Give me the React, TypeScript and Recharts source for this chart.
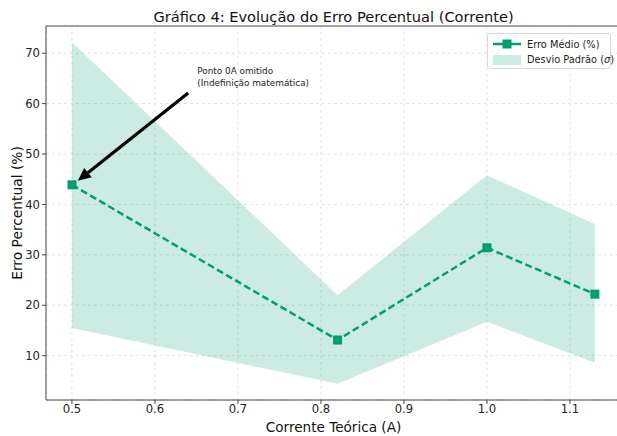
import React from 'react';
import { ComposedChart, Line, Area, XAxis, YAxis, CartesianGrid, ReferenceLine } from 'recharts';

const X_VALUES = [0.5, 0.82, 1.0, 1.13];
const MEAN_ERROR = [43.9, 13.1, 31.4, 22.2];
const LOWER_BAND = [15.5, 4.4, 16.7, 8.6];
const UPPER_BAND = [72.2, 22.0, 45.8, 36.1];
const X_TICKS = [0.5, 0.6, 0.7, 0.8, 0.9, 1.0, 1.1];
const Y_TICKS = [10, 20, 30, 40, 50, 60, 70];
const X_DOMAIN = [0.4687, 1.1615];
const Y_DOMAIN = [1.2, 75.4];
const ARROW_FROM = { x: 0.64, y: 62.1 };
const ARROW_TO = { x: 0.507, y: 44.7 };

const TITLE = 'Gráfico 4: Evolução do Erro Percentual (Corrente)';
const X_LABEL = 'Corrente Teórica (A)';
const Y_LABEL = 'Erro Percentual (%)';
const ANNOT_1 = 'Ponto 0A omitido';
const ANNOT_2 = '(Indefinição matemática)';
const LEG_1 = 'Erro Médio (%)';
const LEG_2 = 'Desvio Padrão (';

const GREEN = '#009E73';
const FONT = '"DejaVu Sans", Verdana, sans-serif';

const data = X_VALUES.map((x, i) => ({
  x,
  mean: MEAN_ERROR[i],
  band: [LOWER_BAND[i], UPPER_BAND[i]],
}));

const SquareDot = (props: any) => {
  const { cx, cy, index } = props;
  if (cx == null || cy == null) return null;
  return <rect key={'d' + index} x={cx - 4.5} y={cy - 4.5} width={9} height={9} fill={GREEN} />;
};

const ArrowShape = (props: any) => {
  const { x1, y1, x2, y2 } = props;
  if (x1 == null) return null;
  const dx = x2 - x1;
  const dy = y2 - y1;
  const len = Math.sqrt(dx * dx + dy * dy);
  const ux = dx / len;
  const uy = dy / len;
  const hl = 13;
  const hw = 6;
  const bx = x2 - ux * hl;
  const by = y2 - uy * hl;
  const px = -uy;
  const py = ux;
  return (
    <g>
      <line x1={x1} y1={y1} x2={bx} y2={by} stroke="#000" strokeWidth={3.2} />
      <polygon
        points={`${x2},${y2} ${bx + px * hw},${by + py * hw} ${bx - px * hw},${by - py * hw}`}
        fill="#000"
      />
      <text x={x1 + 9} y={y1 - 19} fontSize={8.9} fill="#222" fontFamily={FONT}>{ANNOT_1}</text>
      <text x={x1 + 9} y={y1 - 7.5} fontSize={8.9} fill="#222" fontFamily={FONT}>{ANNOT_2}</text>
    </g>
  );
};

const YLabel = (props: any) => {
  const vb = props.viewBox || {};
  const x = (vb.x ?? 0) + 17;
  const y = (vb.y ?? 0) + (vb.height ?? 0) / 2;
  return (
    <text x={x} y={y} transform={`rotate(-90 ${x} ${y})`} textAnchor="middle" dominantBaseline="central" fontSize={13.8} fill="#111" fontFamily={FONT}>
      {Y_LABEL}
    </text>
  );
};

const XLabel = (props: any) => {
  const vb = props.viewBox || {};
  const x = (vb.x ?? 0) + (vb.width ?? 0) / 2;
  const y = (vb.y ?? 0) + 32;
  return (
    <text x={x} y={y} textAnchor="middle" fontSize={13.6} fill="#111" fontFamily={FONT}>
      {X_LABEL}
    </text>
  );
};

export default function App() {
  return (
    <div style={{ position: 'absolute', left: 0, top: 0, width: 617, height: 436, overflow: 'hidden', background: '#fff' }}>
      <ComposedChart
        width={621}
        height={436}
        data={data}
        margin={{ top: 26, right: 0, bottom: 0, left: 0 }}
        style={{ fontFamily: FONT }}
      >
        <CartesianGrid stroke="#dedede" strokeDasharray="2.5 3.5" vertical horizontal />
        <XAxis
          dataKey="x"
          type="number"
          domain={X_DOMAIN}
          ticks={X_TICKS}
          allowDataOverflow
          height={36}
          tickSize={4}
          tickMargin={1}
          tickFormatter={(v: number) => v.toFixed(1)}
          tick={{ fontSize: 11.6, fill: '#222', fontFamily: FONT }}
          stroke="#444"
          label={<XLabel />}
        />
        <YAxis
          type="number"
          domain={Y_DOMAIN}
          ticks={Y_TICKS}
          allowDataOverflow
          width={46}
          tickSize={4}
          tickMargin={2}
          tick={{ fontSize: 11.6, fill: '#222', fontFamily: FONT }}
          stroke="#444"
          label={<YLabel />}
        />
        <ReferenceLine
          y={Y_DOMAIN[1]}
          stroke="#888"
          strokeWidth={1.5}
          label={{ value: TITLE, position: 'top', offset: 4, fontSize: 14.6, fill: '#111', fontFamily: FONT }}
        />
        <Area
          type="linear"
          dataKey="band"
          stroke="none"
          fill={GREEN}
          fillOpacity={0.2}
          isAnimationActive={false}
          activeDot={false}
        />
        <Line
          type="linear"
          dataKey="mean"
          stroke={GREEN}
          strokeWidth={2.5}
          strokeDasharray="7 3.5"
          dot={<SquareDot />}
          activeDot={false}
          isAnimationActive={false}
        />
        <ReferenceLine
          segment={[ARROW_FROM, ARROW_TO]}
          shape={<ArrowShape />}
          ifOverflow="visible"
        />
      </ComposedChart>
      <div
        style={{
          position: 'absolute',
          left: 487,
          top: 33,
          width: 124,
          height: 36,
          background: 'rgba(255,255,255,0.85)',
          border: '1px solid #d8d8d8',
          borderRadius: 3,
          fontFamily: FONT,
          fontSize: 9.8,
          color: '#222',
          boxSizing: 'border-box',
        }}
      >
        <div style={{ position: 'absolute', left: 5, top: 4, height: 12, display: 'flex', alignItems: 'center' }}>
          <svg width={28} height={12} style={{ display: 'block' }}>
            <line x1={0} y1={6} x2={28} y2={6} stroke={GREEN} strokeWidth={2.5} />
            <rect x={9.5} y={1.5} width={9} height={9} fill={GREEN} />
          </svg>
          <span style={{ marginLeft: 6, whiteSpace: 'nowrap' }}>{LEG_1}</span>
        </div>
        <div style={{ position: 'absolute', left: 5, top: 19.5, height: 12, display: 'flex', alignItems: 'center' }}>
          <svg width={28} height={10} style={{ display: 'block' }}>
            <rect x={0} y={0} width={28} height={10} fill={GREEN} fillOpacity={0.2} />
          </svg>
          <span style={{ marginLeft: 6, whiteSpace: 'nowrap' }}>
            {LEG_2}<i>σ</i>)
          </span>
        </div>
      </div>
    </div>
  );
}
